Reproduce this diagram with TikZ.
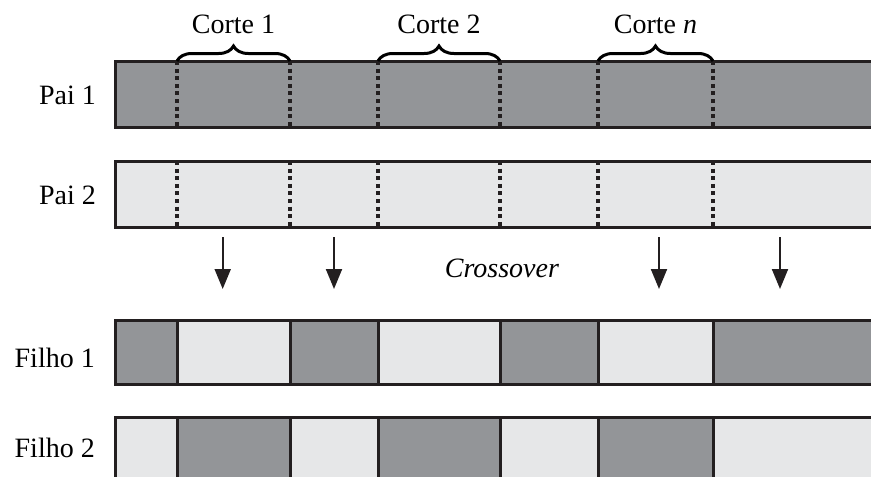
\documentclass[tikz,border=0pt]{standalone}
\usepackage{fontspec}
\setmainfont{Liberation Serif}
\usetikzlibrary{arrows.meta,decorations.pathreplacing}
\definecolor{geneDark}{HTML}{939598}
\definecolor{geneLight}{HTML}{E6E7E8}
\definecolor{ink}{HTML}{231F20}
\begin{document}
\begin{tikzpicture}[x=1pt,y=-1pt,
  lbl/.style={font=\fontsize{28}{33}\selectfont, inner sep=0pt, text=black},
  bar/.style={draw=ink, line width=3pt, rectangle, inner sep=0pt, outer sep=0pt},
  cutline/.style={draw=ink, line width=3.6pt, dash pattern=on 4pt off 3.6pt},
  cutbrace/.style={draw=black, line width=3pt, decorate, decoration={brace, amplitude=15pt}},
  flow/.style={draw=ink, line width=2pt, -{Triangle[width=16pt,length=20pt]}}
]
\clip (0,0) rectangle (871,477);

% cut positions along the chromosome
\foreach \n/\x in {1/177,2/290,3/378,4/500,5/598,6/713}
  \coordinate (c\n) at (\x,0);

% parent chromosomes
\node[bar, fill=geneDark, minimum width=764pt, minimum height=66pt] (p1) at (497.5,94) {};
\node[bar, fill=geneLight, minimum width=764pt, minimum height=66pt] (p2) at (497.5,194) {};

% dotted cut lines on both parents
\foreach \n in {1,...,6} {
  \draw[cutline] (p1.north -| c\n) -- (p1.south -| c\n);
  \draw[cutline] (p2.north -| c\n) -- (p2.south -| c\n);
}

% braces marking the exchanged segments
\draw[cutbrace] (p1.north -| c1) -- (p1.north -| c2);
\draw[cutbrace] (p1.north -| c3) -- (p1.north -| c4);
\draw[cutbrace] (p1.north -| c5) -- (p1.north -| c6);
\node[lbl, anchor=base] (k1) at (233.5,33) {Corte 1};
\node[lbl, anchor=base] (k2) at (439,33) {Corte 2};
\node[lbl, anchor=base] (k3) at (655.5,33) {Corte \textit{n}};

% offspring chromosomes, segment by segment
\foreach \a/\b/\i/\fa/\fb in {115/177/1/geneDark/geneLight,177/290/2/geneLight/geneDark,
    290/378/3/geneDark/geneLight,378/500/4/geneLight/geneDark,500/598/5/geneDark/geneLight,
    598/713/6/geneLight/geneDark,713/880/7/geneDark/geneLight} {
  \pgfmathsetmacro\segmid{(\a+\b)/2}
  \pgfmathsetmacro\segwidth{\b-\a}
  \node[bar, fill=\fa, minimum width=\segwidth pt, minimum height=64pt] (f1s\i) at (\segmid,352) {};
  \node[bar, fill=\fb, minimum width=\segwidth pt, minimum height=64pt] (f2s\i) at (\segmid,449) {};
}

% row labels
\node[lbl, anchor=base east] (l1) at (96,104) {Pai 1};
\node[lbl, anchor=base east] (l2) at (96,204) {Pai 2};
\node[lbl, anchor=base east] (l3) at (95,367) {Filho 1};
\node[lbl, anchor=base east] (l4) at (95,457) {Filho 2};

% crossover arrows
\foreach \n/\x in {1/222.7,2/334,3/659,4/780} {
  \coordinate (a\n) at (\x,237);
  \coordinate (b\n) at (\x,289);
  \draw[flow] (a\n) -- (b\n);
}
\node[lbl, anchor=base] (xo) at (502,277) {\textit{Crossover}};
\end{tikzpicture}
\end{document}
